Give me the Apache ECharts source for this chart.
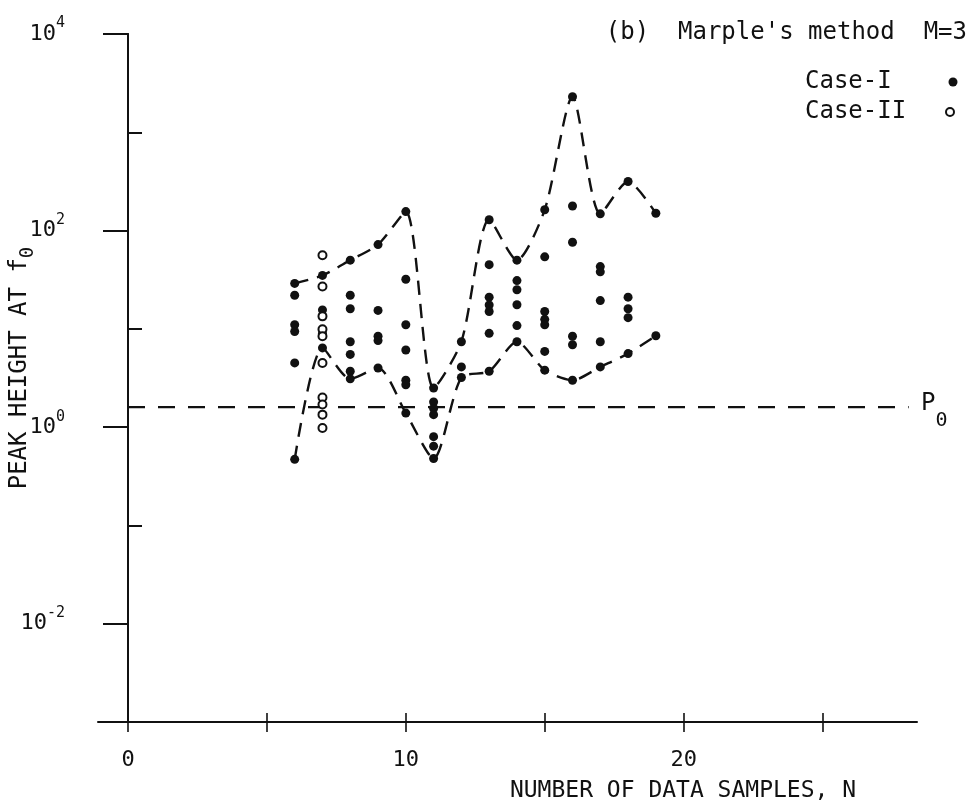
<!DOCTYPE html>
<html>
<head>
<meta charset="utf-8">
<script src="https://cdn.jsdelivr.net/npm/echarts@6/dist/echarts.min.js"></script>
<style>
  html, body { margin: 0; padding: 0; background: #fff; }
  #chart { width: 970px; height: 810px; }
</style>
</head>
<body>
<div id="chart"></div>
<script>
// Typewriter-style lettering used throughout the figure
const FONT = '"DejaVu Sans Mono", "Liberation Mono", monospace';
const INK = '#111';

// Axis ticks and labels
const xTickValues = [0, 5, 10, 15, 20, 25];
const xInnerTickValues = [5, 10, 15, 20, 25];
const xLabelValues = [0, 10, 20];
const yLabelValues = [1e-2, 1, 1e2, 1e4];
const yMinorTickValues = [1e-1, 1e1, 1e3];

// Case-I peak heights (filled dots): [N, peak height]
const caseOne = [
  [6, 29], [6, 22], [6, 11], [6, 9.4], [6, 4.5], [6, 0.47],
  [7, 35], [7, 15.6], [7, 13.6], [7, 9.0], [7, 6.4],
  [8, 50], [8, 22], [8, 16], [8, 7.4], [8, 5.5], [8, 3.7], [8, 3.1],
  [9, 72], [9, 15.4], [9, 8.4], [9, 7.6], [9, 4.0],
  [10, 156], [10, 32], [10, 11], [10, 6.1], [10, 3.0], [10, 2.7], [10, 1.39],
  [11, 2.5], [11, 1.8], [11, 1.55], [11, 1.34], [11, 0.80], [11, 0.64], [11, 0.48],
  [12, 7.4], [12, 4.1], [12, 3.2],
  [13, 129], [13, 45], [13, 21], [13, 17.5], [13, 15], [13, 9.0], [13, 3.7],
  [14, 50], [14, 31], [14, 25], [14, 17.6], [14, 10.8], [14, 7.4],
  [15, 163], [15, 54], [15, 15], [15, 12.5], [15, 11], [15, 5.9], [15, 3.8],
  [16, 2300], [16, 178], [16, 76], [16, 8.4], [16, 6.9], [16, 3.0],
  [17, 148], [17, 43], [17, 38], [17, 19.4], [17, 7.4], [17, 4.1],
  [18, 316], [18, 21], [18, 16], [18, 13], [18, 5.6],
  [19, 150], [19, 8.5]
];

// Case-II peak heights (open circles): [N, peak height]
const caseTwo = [
  [7, 56], [7, 27], [7, 13.4], [7, 9.9], [7, 8.4], [7, 4.5],
  [7, 2.0], [7, 1.7], [7, 1.34], [7, 0.98]
];

// Dashed envelopes through the largest and smallest Case-I values
const envelopeN = [6, 7, 8, 9, 10, 11, 12, 13, 14, 15, 16, 17, 18, 19];
const upperEnvelope = [29, 35, 50, 72, 156, 2.5, 7.4, 129, 50, 163, 2300, 148, 316, 150];
const lowerEnvelope = [0.47, 6.4, 3.1, 4.0, 1.39, 0.48, 3.2, 3.7, 7.4, 3.8, 3.0, 4.1, 5.6, 8.5];

// True peak level P0
const p0Level = 1.6;
const p0Span = [0, 28.1];

const chart = echarts.init(document.getElementById('chart'), null, { renderer: 'canvas' });

const axisLineStyle = { color: INK, width: 2 };
const tickStyle = { color: INK, width: 1.6 };
const powerRich = {
  b: { fontFamily: FONT, fontSize: 22, lineHeight: 36, verticalAlign: 'middle', color: INK },
  s: { fontFamily: FONT, fontSize: 15, lineHeight: 15, verticalAlign: 'top', color: INK }
};

function powerLabel(v) {
  const e = yLabelValues.indexOf(v) >= 0 ? Math.round(Math.log10(v)) : Math.round(v);
  return '{b|10}{s|' + (e < 0 ? '-' + (-e) : String(e)) + '}';
}

const envelopeLine = { color: INK, width: 2.4, type: [14, 9] };

const option = {
  backgroundColor: '#fff',
  animation: false,
  grid: { left: 98, right: 53, top: 34, bottom: 88, containLabel: false },
  xAxis: [
    {
      type: 'value', min: -1.08, max: 28.4,
      axisLine: { onZero: false, lineStyle: axisLineStyle },
      axisTick: { customValues: xTickValues, length: 10, lineStyle: tickStyle },
      axisLabel: { customValues: xLabelValues, margin: 27, fontFamily: FONT, fontSize: 22, color: INK },
      splitLine: { show: false }
    },
    {
      type: 'value', min: -1.08, max: 28.4, position: 'bottom',
      axisLine: { show: false, onZero: false },
      axisTick: { inside: true, customValues: xInnerTickValues, length: 9, lineStyle: tickStyle },
      axisLabel: { show: false },
      splitLine: { show: false }
    }
  ],
  yAxis: [
    {
      type: 'log', logBase: 10, min: 1e-3, max: 1e4,
      axisLine: { onZero: true, onZeroAxisIndex: 0, lineStyle: axisLineStyle },
      axisTick: { customValues: yLabelValues, length: 25, lineStyle: { color: INK, width: 2 } },
      axisLabel: { customValues: yLabelValues, margin: 33, formatter: powerLabel, rich: powerRich },
      splitLine: { show: false }
    },
    {
      type: 'log', logBase: 10, min: 1e-3, max: 1e4,
      axisLine: { onZero: true, onZeroAxisIndex: 1, lineStyle: axisLineStyle },
      axisTick: { customValues: yMinorTickValues, length: 14, lineStyle: { color: INK, width: 2 } },
      axisLabel: { show: false },
      splitLine: { show: false }
    }
  ],
  series: [
    {
      name: 'P0', type: 'line', silent: true, showSymbol: false, z: 2,
      data: p0Span.map(n => [n, p0Level]),
      lineStyle: { color: INK, width: 2.4, type: [17, 13] }
    },
    {
      name: 'upper', type: 'line', silent: true, showSymbol: false, smooth: 0.25, z: 2,
      data: envelopeN.map((n, i) => [n, upperEnvelope[i]]),
      lineStyle: envelopeLine
    },
    {
      name: 'lower', type: 'line', silent: true, showSymbol: false, smooth: 0.25, z: 2,
      data: envelopeN.map((n, i) => [n, lowerEnvelope[i]]),
      lineStyle: envelopeLine
    },
    {
      name: 'Case-I', type: 'scatter', symbol: 'circle', symbolSize: 9, z: 4,
      data: caseOne,
      itemStyle: { color: INK, opacity: 1 }
    },
    {
      name: 'Case-II', type: 'scatter', symbol: 'circle', symbolSize: 8, z: 5,
      data: caseTwo,
      itemStyle: { color: '#fff', borderColor: INK, borderWidth: 2, opacity: 1 }
    }
  ],
  graphic: [
    {
      type: 'text', x: 967, y: 33,
      style: { text: "(b)  Marple's method  M=3", font: '24px ' + FONT, fill: INK, align: 'right', verticalAlign: 'middle' }
    },
    {
      type: 'text', x: 805, y: 82,
      style: { text: 'Case-I', font: '24px ' + FONT, fill: INK, align: 'left', verticalAlign: 'middle' }
    },
    { type: 'circle', shape: { cx: 953, cy: 82, r: 4.5 }, style: { fill: INK } },
    {
      type: 'text', x: 805, y: 112,
      style: { text: 'Case-II', font: '24px ' + FONT, fill: INK, align: 'left', verticalAlign: 'middle' }
    },
    { type: 'circle', shape: { cx: 950, cy: 112, r: 4 }, style: { fill: '#fff', stroke: INK, lineWidth: 2 } },
    {
      type: 'text', x: 683, y: 791,
      style: { text: 'NUMBER OF DATA SAMPLES, N', font: '23px ' + FONT, fill: INK, align: 'center', verticalAlign: 'middle' }
    },
    {
      type: 'text', x: 23, y: 368, rotation: Math.PI / 2,
      style: {
        text: '{t|PEAK HEIGHT AT f}{s|0}',
        align: 'center', verticalAlign: 'middle',
        rich: {
          t: { fontFamily: FONT, fontSize: 24, lineHeight: 24, verticalAlign: 'top', fill: INK, color: INK },
          s: { fontFamily: FONT, fontSize: 19, lineHeight: 30, verticalAlign: 'bottom', fill: INK, color: INK }
        }
      }
    },
    {
      type: 'text', x: 921, y: 392,
      style: {
        text: '{p|P}{s|0}',
        align: 'left', verticalAlign: 'top',
        rich: {
          p: { fontFamily: FONT, fontSize: 24, lineHeight: 24, verticalAlign: 'top', fill: INK, color: INK },
          s: { fontFamily: FONT, fontSize: 20, lineHeight: 39, verticalAlign: 'bottom', fill: INK, color: INK }
        }
      }
    }
  ]
};

chart.setOption(option);
</script>
</body>
</html>
